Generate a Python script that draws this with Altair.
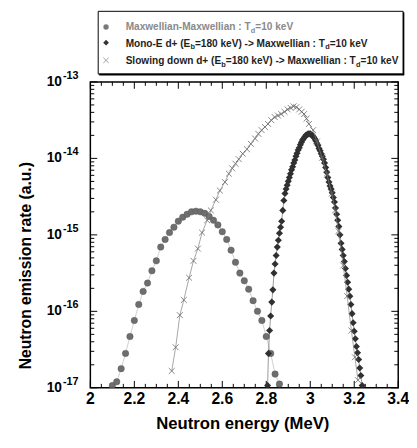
import altair as alt
import pandas as pd

# ---------------- data ----------------
maxw_energy = [2.10, 2.12, 2.14, 2.16, 2.18, 2.20, 2.22, 2.24, 2.26, 2.28,
               2.30, 2.32, 2.34, 2.36, 2.38, 2.40, 2.42, 2.44, 2.46, 2.48,
               2.50, 2.52, 2.54, 2.56, 2.58, 2.60, 2.62, 2.64, 2.66, 2.68,
               2.70, 2.72, 2.74, 2.76, 2.78, 2.80, 2.82, 2.84, 2.86]
maxw_rate = [1.07e-17, 1.20e-17, 1.78e-17, 2.82e-17, 4.68e-17, 7.59e-17, 1.23e-16, 1.82e-16, 2.34e-16, 3.39e-16,
             4.57e-16, 6.92e-16, 8.71e-16, 1.07e-15, 1.26e-15, 1.51e-15, 1.70e-15, 1.86e-15, 2.00e-15, 2.04e-15,
             2.00e-15, 1.91e-15, 1.74e-15, 1.55e-15, 1.35e-15, 1.10e-15, 8.71e-16, 6.31e-16, 4.37e-16, 3.16e-16,
             2.51e-16, 1.95e-16, 1.38e-16, 1.00e-16, 7.59e-17, 4.68e-17, 2.82e-17, 1.51e-17, 1.12e-17]

mono_energy = [2.806, 2.810, 2.815, 2.820, 2.825, 2.830, 2.835, 2.840, 2.845, 2.850,
               2.855, 2.860, 2.865, 2.870, 2.875, 2.880, 2.885, 2.890, 2.895, 2.900,
               2.905, 2.910, 2.915, 2.920, 2.925, 2.930, 2.935, 2.940, 2.945, 2.950,
               2.955, 2.960, 2.965, 2.970, 2.975, 2.980, 2.985, 2.990, 2.995, 3.000,
               3.005, 3.010, 3.015, 3.020, 3.025, 3.030, 3.035, 3.040, 3.045, 3.050,
               3.055, 3.060, 3.065, 3.070, 3.075, 3.080, 3.085, 3.090, 3.095, 3.100,
               3.105, 3.110, 3.115, 3.120, 3.125, 3.130, 3.135, 3.140, 3.145, 3.150,
               3.155, 3.160, 3.165, 3.170, 3.175, 3.180, 3.185, 3.190, 3.195, 3.200,
               3.205, 3.210, 3.215, 3.220, 3.225, 3.230, 3.236]
mono_rate = [1.07e-17, 2.82e-17, 5.62e-17, 8.71e-17, 1.32e-16, 1.91e-16, 3.16e-16, 4.17e-16, 5.37e-16, 6.92e-16,
             8.51e-16, 1.05e-15, 1.26e-15, 1.51e-15, 2.09e-15, 2.82e-15, 3.47e-15, 3.98e-15, 4.47e-15, 5.01e-15,
             5.62e-15, 6.31e-15, 7.08e-15, 7.76e-15, 8.71e-15, 9.55e-15, 1.07e-14, 1.17e-14, 1.29e-14, 1.38e-14,
             1.51e-14, 1.62e-14, 1.74e-14, 1.82e-14, 1.91e-14, 2.00e-14, 2.04e-14, 2.09e-14, 2.09e-14, 2.09e-14,
             2.04e-14, 2.00e-14, 1.91e-14, 1.82e-14, 1.70e-14, 1.58e-14, 1.48e-14, 1.35e-14, 1.26e-14, 1.15e-14,
             1.07e-14, 9.77e-15, 8.71e-15, 7.59e-15, 6.61e-15, 5.62e-15, 4.90e-15, 4.37e-15, 3.98e-15, 3.55e-15,
             3.09e-15, 2.69e-15, 2.24e-15, 1.86e-15, 1.55e-15, 1.29e-15, 1.00e-15, 7.76e-16, 6.46e-16, 5.37e-16,
             4.47e-16, 3.63e-16, 2.95e-16, 2.40e-16, 1.95e-16, 1.58e-16, 1.23e-16, 9.33e-17, 7.08e-17, 5.50e-17,
             4.37e-17, 3.47e-17, 2.88e-17, 2.34e-17, 1.82e-17, 1.45e-17, 1.07e-17]

slow_energy = [2.370, 2.388, 2.407, 2.425, 2.449, 2.469, 2.489, 2.508, 2.531, 2.548,
               2.571, 2.589, 2.612, 2.630, 2.645, 2.660, 2.675, 2.693, 2.712, 2.730,
               2.749, 2.764, 2.779, 2.794, 2.808, 2.823, 2.838, 2.853, 2.868, 2.883,
               2.897, 2.911, 2.924, 2.937, 2.950, 2.961, 2.972, 2.983, 2.994, 3.013,
               3.030, 3.054, 3.075, 3.098, 3.113, 3.128, 3.150, 3.168, 3.187, 3.203,
               3.217]
slow_rate = [1.66e-17, 3.39e-17, 8.91e-17, 1.41e-16, 2.75e-16, 4.57e-16, 6.61e-16, 1.07e-15, 1.55e-15, 2.09e-15,
             2.88e-15, 3.80e-15, 4.90e-15, 6.31e-15, 7.41e-15, 8.51e-15, 9.77e-15, 1.15e-14, 1.32e-14, 1.55e-14,
             1.82e-14, 2.09e-14, 2.34e-14, 2.57e-14, 2.82e-14, 3.16e-14, 3.47e-14, 3.63e-14, 3.80e-14, 4.07e-14,
             4.37e-14, 4.57e-14, 4.79e-14, 4.68e-14, 4.37e-14, 4.07e-14, 3.80e-14, 3.31e-14, 2.82e-14, 2.34e-14,
             1.66e-14, 1.02e-14, 6.31e-15, 3.47e-15, 2.09e-15, 1.12e-15, 3.98e-16, 1.58e-16, 5.62e-17, 2.51e-17,
             1.26e-17]

x_label_values = [2.0, 2.2, 2.4, 2.6, 2.8, 3.0, 3.2, 3.4]
x_label_text = ["2", "2.2", "2.4", "2.6", "2.8", "3", "3.2", "3.4"]
x_minor_values = [2.05, 2.1, 2.15, 2.25, 2.3, 2.35, 2.45, 2.5, 2.55, 2.65, 2.7, 2.75,
                  2.85, 2.9, 2.95, 3.05, 3.1, 3.15, 3.25, 3.3, 3.35]
y_decades = [1e-13, 1e-14, 1e-15, 1e-16, 1e-17]
y_exponents = ["-13", "-14", "-15", "-16", "-17"]
y_minor_values = [k * d for d in [1e-17, 1e-16, 1e-15, 1e-14] for k in range(2, 10)]

x_title = "Neutron energy (MeV)"
y_title = "Neutron emission rate (a.u.)"
legend_lines = [
    [("Maxwellian-Maxwellian : T", False), ("d", True), ("=10 keV", False)],
    [("Mono-E d+ (E", False), ("b", True), ("=180 keV) -> Maxwellian : T", False), ("d", True), ("=10 keV", False)],
    [("Slowing down d+ (E", False), ("b", True), ("=180 keV) -> Maxwellian : T", False), ("d", True), ("=10 keV", False)],
]

# ---------------- layout / style ----------------
FONT = "Liberation Sans"
W, H = 314, 312
LEG_FONT = 10.3
LEG_SUB = 7.5

# Arial/Liberation Sans Bold advance widths (per 1000 em) for legend layout
AW = {' ': 278, '-': 333, ':': 333, '=': 584, '(': 333, ')': 333, '+': 584, '>': 584,
      'M': 833, 'T': 611, 'E': 667, 'V': 667, 'S': 667,
      'a': 556, 'b': 611, 'd': 611, 'e': 556, 'g': 611, 'i': 278, 'k': 556, 'l': 278,
      'n': 611, 'o': 611, 'w': 778, 'x': 556}


def text_width(s, size):
    return sum(AW.get(c, 556) for c in s) * size / 1000.0


x_scale = alt.Scale(domain=[2, 3.4], nice=False, zero=False)
y_scale = alt.Scale(type="log", domain=[1e-17, 1e-13], nice=False)
X = alt.X("E:Q", scale=x_scale, axis=None)
Y = alt.Y("rate:Q", scale=y_scale, axis=None)

df_maxw = pd.DataFrame({"E": maxw_energy, "rate": maxw_rate})
df_mono = pd.DataFrame({"E": mono_energy, "rate": mono_rate})
df_slow = pd.DataFrame({"E": slow_energy, "rate": slow_rate})
one = pd.DataFrame({"a": [0]})

cross_path = "M-1,-1L1,1M-1,1L1,-1"

layers = []

# frame
layers.append(alt.Chart(one).mark_rect(fillOpacity=0, stroke="black", strokeWidth=1.5).encode(
    x=alt.value(0), x2=alt.value(W), y=alt.value(0), y2=alt.value(H)))

# x ticks (bottom & top, inward)
df_xmaj = pd.DataFrame({"E": x_label_values})
df_xmin = pd.DataFrame({"E": x_minor_values})
for dfx, ln in [(df_xmaj, 7), (df_xmin, 4)]:
    layers.append(alt.Chart(dfx).mark_rule(color="black", strokeWidth=1).encode(
        x=X, y=alt.value(H), y2=alt.value(H - ln)))
    layers.append(alt.Chart(dfx).mark_rule(color="black", strokeWidth=1).encode(
        x=X, y=alt.value(0), y2=alt.value(ln)))

# y ticks (left & right, inward)
df_ymaj = pd.DataFrame({"rate": y_decades, "exp": y_exponents})
df_ymin = pd.DataFrame({"rate": y_minor_values})
for dfy, ln in [(df_ymaj, 7), (df_ymin, 4)]:
    layers.append(alt.Chart(dfy).mark_rule(color="black", strokeWidth=1).encode(
        y=Y, x=alt.value(0), x2=alt.value(ln)))
    layers.append(alt.Chart(dfy).mark_rule(color="black", strokeWidth=1).encode(
        y=Y, x=alt.value(W), x2=alt.value(W - ln)))

# series
layers.append(alt.Chart(df_maxw).mark_line(color="#a0a0a0", strokeWidth=0.5, clip=True).encode(x=X, y=Y))
layers.append(alt.Chart(df_maxw).mark_point(shape="circle", filled=True, size=44, color="#6e6e6e",
                                            stroke="#555555", strokeWidth=0.4, opacity=1, clip=True).encode(x=X, y=Y))
layers.append(alt.Chart(df_mono).mark_line(color="#555555", strokeWidth=0.6, clip=True).encode(x=X, y=Y))
layers.append(alt.Chart(df_mono).mark_point(shape="diamond", filled=True, size=52, color="#303030",
                                            opacity=1, clip=True).encode(x=X, y=Y))
layers.append(alt.Chart(df_slow).mark_line(color="#808080", strokeWidth=0.7, clip=True).encode(x=X, y=Y))
layers.append(alt.Chart(df_slow).mark_point(shape=cross_path, filled=False, size=36, color="#666666",
                                            strokeWidth=0.8, opacity=1, clip=True).encode(x=X, y=Y))

# y tick labels: 10^exp
layers.append(alt.Chart(df_ymaj).mark_text(text="10", align="right", baseline="middle", font=FONT,
                                           fontWeight="bold", fontSize=14, color="black").encode(
    y=Y, x=alt.value(-29)))
layers.append(alt.Chart(df_ymaj).mark_text(align="left", baseline="middle", font=FONT, fontWeight="bold",
                                           fontSize=11, dy=-6, color="black").encode(
    y=Y, x=alt.value(-28), text="exp:N"))

# x tick labels
df_xlab = pd.DataFrame({"E": x_label_values, "lab": x_label_text})
layers.append(alt.Chart(df_xlab).mark_text(align="center", baseline="alphabetic", font=FONT, fontWeight="bold",
                                           fontSize=16, color="black").encode(
    x=X, y=alt.value(328.5), text="lab:N"))

# axis titles
layers.append(alt.Chart(pd.DataFrame({"t": [x_title]})).mark_text(
    align="center", baseline="alphabetic", font=FONT, fontWeight="bold", fontSize=17, color="black").encode(
    x=alt.value(155.5), y=alt.value(354), text="t:N"))
layers.append(alt.Chart(pd.DataFrame({"t": [y_title]})).mark_text(
    align="center", baseline="middle", angle=270, font=FONT, fontWeight="bold", fontSize=16, color="black").encode(
    x=alt.value(-66), y=alt.value(187.5), text="t:N"))

# legend box
layers.append(alt.Chart(one).mark_rect(fill="white", stroke="black", strokeWidth=1).encode(
    x=alt.value(8), x2=alt.value(319), y=alt.value(-72), y2=alt.value(-8)))
layers.append(alt.Chart(one).mark_rule(color="black", strokeWidth=2).encode(
    x=alt.value(9), x2=alt.value(320), y=alt.value(-7.5)))
layers.append(alt.Chart(one).mark_rule(color="black", strokeWidth=1.5).encode(
    x=alt.value(319.5), y=alt.value(-71), y2=alt.value(-7)))

# legend symbols
layers.append(alt.Chart(one).mark_point(shape="circle", filled=True, size=30, color="#7a7a7a", opacity=1).encode(
    x=alt.value(16), y=alt.value(-56)))
layers.append(alt.Chart(one).mark_point(shape="diamond", filled=True, size=34, color="#333333", opacity=1).encode(
    x=alt.value(16), y=alt.value(-40)))
layers.append(alt.Chart(one).mark_point(shape=cross_path, filled=False, size=30, color="#888888",
                                        strokeWidth=0.8, opacity=1).encode(
    x=alt.value(16), y=alt.value(-22)))

# legend text (with subscripts)
rows = []
base_y = [-52.5, -36, -18]
colors = ["#8a8a8a", "#1e1e1e", "#1e1e1e"]
for line, by, col in zip(legend_lines, base_y, colors):
    xpos = 36.0
    for txt, sub in line:
        size = LEG_SUB if sub else LEG_FONT
        rows.append({"x": xpos, "y": by + (2.5 if sub else 0), "text": txt, "size": size, "color": col})
        xpos += text_width(txt, size)
df_leg = pd.DataFrame(rows)
layers.append(alt.Chart(df_leg).mark_text(align="left", baseline="alphabetic", font=FONT,
                                          fontWeight="bold").encode(
    x=alt.X("x:Q", scale=None, axis=None),
    y=alt.Y("y:Q", scale=None, axis=None),
    text="text:N",
    size=alt.Size("size:Q", scale=None, legend=None),
    color=alt.Color("color:N", scale=None, legend=None)))

chart = alt.layer(*layers).resolve_scale(
    x="independent", y="independent"
).properties(
    width=W, height=H,
    padding={"left": 84, "top": 71, "right": 11, "bottom": 57},
    autosize=alt.AutoSizeParams(type="none"),
).configure_view(strokeWidth=0)

chart.save("out.html", embed_options={"renderer": "svg", "actions": False})
